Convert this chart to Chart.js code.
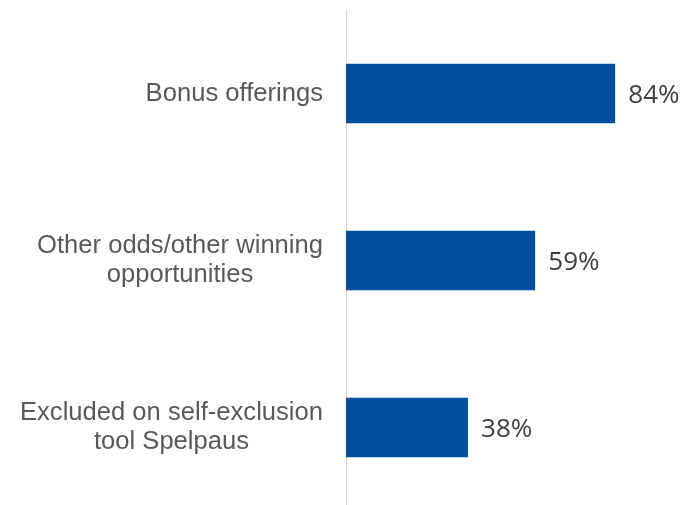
<!DOCTYPE html>
<html>
<head>
<meta charset="utf-8">
<script src="https://cdn.jsdelivr.net/npm/chart.js@4"></script>
<style>
  html, body { margin: 0; padding: 0; background: #fff; overflow: hidden; }
  #wrap { position: relative; width: 695px; height: 511px; }
</style>
</head>
<body>
<div id="wrap"><canvas id="chart"></canvas></div>
<script>
const categories = [
  ['Bonus offerings'],
  ['Other odds/other winning', 'opportunities'],
  ['Excluded on self-exclusion', 'tool Spelpaus']
];
const shares = [84, 59, 38];

// draws the category labels (block right-aligned, lines centred) and value labels
const labelPlugin = {
  id: 'labels',
  afterDatasetsDraw(chart) {
    const ctx = chart.ctx;
    const yScale = chart.scales.y;
    const meta = chart.getDatasetMeta(0);
    ctx.save();
    ctx.textBaseline = 'middle';

    ctx.font = '25.6px "Liberation Sans", Arial, sans-serif';
    ctx.fillStyle = '#595959';
    const right = 323;
    const lineH = 29;
    categories.forEach((lines, i) => {
      const cy = yScale.getPixelForTick(i);
      const widest = Math.max(...lines.map(l => ctx.measureText(l).width));
      const cx = right - widest / 2;
      ctx.textAlign = 'center';
      lines.forEach((l, j) => {
        const y = cy + (j - (lines.length - 1) / 2) * lineH;
        ctx.fillText(l, cx, y);
      });
    });

    ctx.font = '26px "Open Sans", Roboto, sans-serif';
    ctx.fillStyle = '#404040';
    ctx.textAlign = 'left';
    meta.data.forEach((bar, i) => {
      ctx.fillText(shares[i] + '%', bar.x + 13.5, bar.y + 2);
    });
    ctx.restore();
  }
};

new Chart(document.getElementById('chart'), {
  type: 'bar',
  data: {
    labels: categories,
    datasets: [{
      data: shares,
      backgroundColor: '#0050A0',
      borderWidth: 0,
      barThickness: 59
    }]
  },
  options: {
    indexAxis: 'y',
    responsive: true,
    maintainAspectRatio: false,
    animation: false,
    layout: { padding: { left: 346, top: 10, right: 29, bottom: 0 } },
    plugins: {
      legend: { display: false },
      tooltip: { enabled: false }
    },
    scales: {
      x: {
        display: false,
        min: 0,
        max: 100
      },
      y: {
        grid: { display: false, drawTicks: false },
        border: { display: true, color: '#d9d9d9', width: 1 },
        ticks: { display: false }
      }
    }
  },
  plugins: [labelPlugin]
});
</script>
</body>
</html>
